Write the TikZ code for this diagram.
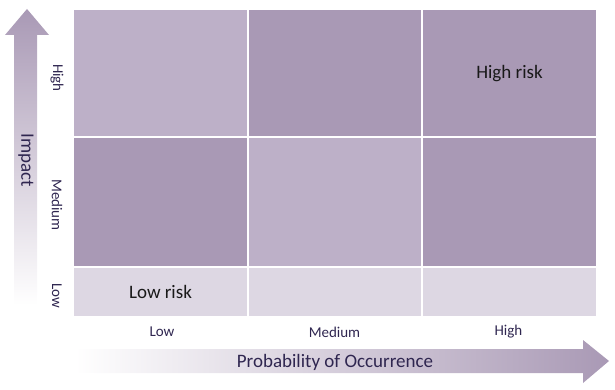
\documentclass[tikz,border=0pt]{standalone}
\usepackage{fontspec}
\setmainfont{Carlito}
\definecolor{riskdark}{HTML}{A999B5}
\definecolor{riskmid}{HTML}{BDB0C8}
\definecolor{risklow}{HTML}{DDD7E3}
\definecolor{axistext}{HTML}{2F2650}
\newcommand{\ax}{\fontsize{15}{17}\selectfont}
\newcommand{\bx}{\fontsize{19}{22}\selectfont}

\begin{document}
\begin{tikzpicture}[x=1pt,y=-1pt,
  cell/.style={inner sep=0pt,minimum width=173pt,text=black!90,font=\bx},
  axlbl/.style={text=axistext,font=\ax}]
   \useasboundingbox (0,0) rectangle (615,390);
   \shade[top color=riskdark,bottom color=white]
    (14,305) -- (14,35) -- (5,35) -- (27,9) -- (49,35) -- (37,35) -- (37,305) -- cycle;
   \shade[left color=white,right color=riskdark]
    (75,349) -- (583,349) -- (583,340) -- (609,361) -- (583,383) -- (583,373) -- (75,373) -- cycle;
   \node[cell,fill=riskmid, minimum height=126.5pt] (hl) at (160.5, 73.25) {};
   \node[cell,fill=riskdark,minimum height=126.5pt,minimum width=172pt] (hm) at (335.0, 73.25) {};
   \node[cell,fill=riskdark,minimum height=126.5pt] (hh) at (509.5, 73.25) {High risk};
   \node[cell,fill=riskdark,minimum height=127.5pt] (ml) at (160.5,202.25) {};
   \node[cell,fill=riskmid, minimum height=127.5pt,minimum width=172pt] (mm) at (335.0,202.25) {};
   \node[cell,fill=riskdark,minimum height=127.5pt] (mh) at (509.5,202.25) {};
   \node[cell,fill=risklow, minimum height=48pt] (ll) at (160.5,292.0) {Low risk};
   \node[cell,fill=risklow, minimum height=48pt,minimum width=172pt] (lm) at (335.0,292.0) {};
   \node[cell,fill=risklow, minimum height=48pt] (lh) at (509.5,292.0) {};
   \node[axlbl,rotate=-90] (yhigh) at (57, 78) {High};
   \node[axlbl,rotate=-90] (ymed)  at (57,205) {Medium};
   \node[axlbl,rotate=-90] (ylow)  at (57,296) {Low};
   \node[axlbl] (xlow)  at (162.0,332) {Low};
   \node[axlbl] (xmed)  at (334.5,332) {Medium};
   \node[axlbl] (xhigh) at (508.5,332) {High};
   \node[text=axistext,font=\bx,rotate=-90] (impact) at (26,160) {Impact};
   \node[text=axistext,font=\bx] (prob) at (335,362) {Probability of Occurrence};
  \end{tikzpicture}
\end{document}
